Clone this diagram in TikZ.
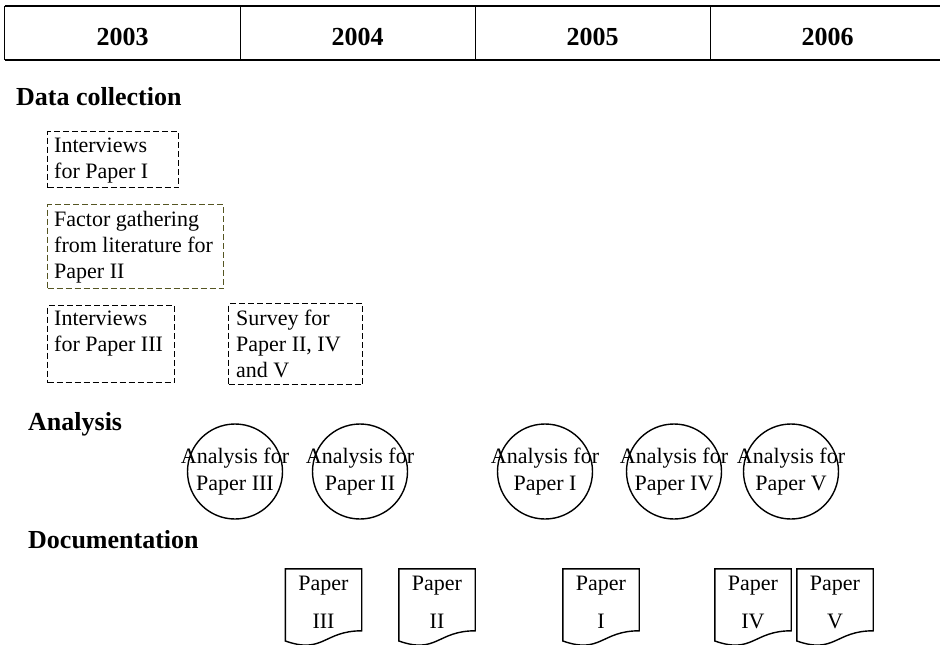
\documentclass[tikz,border=0pt]{standalone}
\usepackage{fontspec}
\setmainfont{Liberation Serif}
\usetikzlibrary{calc}
\definecolor{olivedash}{RGB}{85,85,34}
\begin{document}
\begin{tikzpicture}[x=1pt,y=-1pt,
  yearcell/.style={minimum width=235pt, minimum height=54pt, inner sep=0pt,
    text height=24pt, text depth=0pt, font=\fontsize{26}{30}\selectfont\bfseries},
  rule/.style={line width=1.3pt},
  section/.style={anchor=base west, inner sep=0pt, font=\fontsize{26}{30}\selectfont\bfseries},
  dbox/.style={draw, line width=1.4pt, dash pattern=on 6pt off 3pt, inner sep=0pt, anchor=north west},
  dtext/.style={anchor=north west, inner sep=0pt, align=left, font=\fontsize{22}{26}\selectfont},
  acircle/.style={circle, draw, line width=1.4pt, minimum size=95pt, inner sep=0pt},
  ctext/.style={anchor=center, inner sep=0pt, align=center, font=\fontsize{22}{27}\selectfont},
  docframe/.style={minimum width=76pt, minimum height=77.3pt, inner sep=0pt},
  docline/.style={draw, line width=1.4pt, line join=miter},
  doctext/.style={anchor=north, inner sep=0pt, align=center, font=\fontsize{22}{38}\selectfont}
]
\useasboundingbox (0,0) rectangle (940,645);

% year header
\node[yearcell] (y1) at (122.5,33) {2003};
\node[yearcell] (y2) at (357.5,33) {2004};
\node[yearcell] (y3) at (592.5,33) {2005};
\node[yearcell] (y4) at (827.5,33) {2006};
\draw[line width=1.5pt] (y1.north west) -- (y4.north east);
\draw[line width=2.5pt] (y1.south west) -- (y4.south east);
\draw[rule] (y1.north west) -- (y1.south west);
\foreach \c in {y1,y2,y3}{
  \draw[rule] (\c.north east) -- (\c.south east);
}

% section headings
\node[section] (lab1) at (16,105) {Data collection};
\node[section] (lab2) at (28,430) {Analysis};
\node[section] (lab3) at (28,548) {Documentation};

% data collection activities
\node[dbox, minimum width=131pt, minimum height=56pt] (b1) at (47,131) {};
\node[dtext] (b1t) at ([xshift=7pt,yshift=-5pt]b1.north west) {\rule{0pt}{16pt}Interviews\\for Paper I};

\node[dbox, draw=olivedash, minimum width=176pt, minimum height=84pt] (b2) at (47,204) {};
\node[dtext] (b2t) at ([xshift=7pt,yshift=-6pt]b2.north west) {\rule{0pt}{16pt}Factor gathering\\from literature for\\Paper II};

\node[dbox, minimum width=127pt, minimum height=77pt] (b3) at (47,305) {};
\node[dtext] (b3t) at ([xshift=7pt,yshift=-4pt]b3.north west) {\rule{0pt}{16pt}Interviews\\for Paper III};

\node[dbox, minimum width=134pt, minimum height=81pt] (b4) at (228,303) {};
\node[dtext] (b4t) at ([xshift=8pt,yshift=-6pt]b4.north west) {\rule{0pt}{16pt}Survey for\\Paper II, IV\\and V};

% analysis steps
\node[acircle] (a3) at (235,471.5) {};
\node[ctext] (a3t) at (a3.center) {\rule{0pt}{15pt}Analysis for\\Paper III};
\node[acircle] (a2) at (360,471.5) {};
\node[ctext] (a2t) at (a2.center) {\rule{0pt}{15pt}Analysis for\\Paper II};
\node[acircle] (a1) at (545,471.5) {};
\node[ctext] (a1t) at (a1.center) {\rule{0pt}{15pt}Analysis for\\Paper I};
\node[acircle] (a4) at (674,471.5) {};
\node[ctext] (a4t) at (a4.center) {\rule{0pt}{15pt}Analysis for\\Paper IV};
\node[acircle] (a5) at (791,471.5) {};
\node[ctext] (a5t) at (a5.center) {\rule{0pt}{15pt}Analysis for\\Paper V};

% documents
\node[docframe] (d3) at (323.5,607.65) {};
\node[docframe] (d2) at (437,607.65) {};
\node[docframe] (d1) at (601,607.65) {};
\node[docframe] (d4) at (753,607.65) {};
\node[docframe] (d5) at (835,607.65) {};
\foreach \d in {d3,d2,d1,d4,d5}{
  \draw[docline] (\d.north west) -- (\d.north east) -- ([yshift=-62pt]\d.north east)
    .. controls ([yshift=-62pt]\d.north) and ([yshift=-85.6pt]\d.north) .. ([yshift=-72.2pt]\d.north west) -- cycle;
}
\node[doctext] (d3t) at ([yshift=-5pt]d3.north) {\rule{0pt}{16pt}Paper\\III};
\node[doctext] (d2t) at ([yshift=-5pt]d2.north) {\rule{0pt}{16pt}Paper\\II};
\node[doctext] (d1t) at ([yshift=-5pt]d1.north) {\rule{0pt}{16pt}Paper\\I};
\node[doctext] (d4t) at ([yshift=-5pt]d4.north) {\rule{0pt}{16pt}Paper\\IV};
\node[doctext] (d5t) at ([yshift=-5pt]d5.north) {\rule{0pt}{16pt}Paper\\V};
\end{tikzpicture}
\end{document}
